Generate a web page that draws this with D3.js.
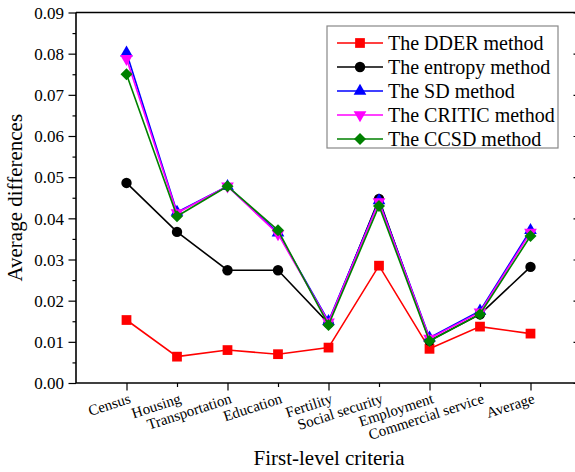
<!DOCTYPE html>
<html>
<head>
<meta charset="utf-8">
<script src="https://cdn.jsdelivr.net/npm/d3@7"></script>
<style>
  html, body { margin: 0; padding: 0; background: #fff; }
  svg { display: block; }
  svg text { font-family: "Liberation Serif", "DejaVu Serif", serif; }
</style>
</head>
<body>
<div id="chart"></div>
<script>
// ── Data ──
const categories = ['Census', 'Housing', 'Transportation', 'Education', 'Fertility',
  'Social security', 'Employment', 'Commercial service', 'Average'];

const dderValues    = [0.0153, 0.0064, 0.0080, 0.0070, 0.0086, 0.0285, 0.0083, 0.0137, 0.0120];
const entropyValues = [0.0486, 0.0367, 0.0274, 0.0274, 0.0145, 0.0447, 0.0103, 0.0167, 0.0282];
const sdValues      = [0.0802, 0.0415, 0.0478, 0.0365, 0.0150, 0.0443, 0.0110, 0.0175, 0.0371];
const criticValues  = [0.0788, 0.0413, 0.0478, 0.0362, 0.0148, 0.0440, 0.0108, 0.0172, 0.0366];
const ccsdValues    = [0.0750, 0.0405, 0.0478, 0.0371, 0.0141, 0.0430, 0.0102, 0.0167, 0.0357];

const seriesNames = ['The DDER method', 'The entropy method', 'The SD method', 'The CRITIC method', 'The CCSD method'];
const yTicks = [0, 0.01, 0.02, 0.03, 0.04, 0.05, 0.06, 0.07, 0.08, 0.09];

const series = [
  { name: seriesNames[0], values: dderValues,    color: '#ff0000', symbol: d3.symbolSquare,   size: 95 },
  { name: seriesNames[1], values: entropyValues, color: '#000000', symbol: d3.symbolCircle,   size: 85 },
  { name: seriesNames[2], values: sdValues,      color: '#0000ff', symbol: d3.symbolTriangle, size: 70 },
  { name: seriesNames[3], values: criticValues,  color: '#ff00ff', symbol: d3.symbolTriangle, size: 70, rot: 180 },
  { name: seriesNames[4], values: ccsdValues,    color: '#008000', symbol: d3.symbolSquare,   size: 72, rot: 45 },
];

// ── Layout ──
const W = 575, H = 472;
const M = { left: 76, right: 581, top: 12.5, bottom: 383 };

const svg = d3.select('#chart').append('svg')
  .attr('width', W).attr('height', H);

const x = d3.scaleLinear().domain([0, 10]).range([M.left, M.right]);
const y = d3.scaleLinear().domain([0, 0.09]).range([M.bottom, M.top]);

// ── Axes ──
const minorY = d3.range(0, 0.0901, 0.005);
const isMajor = d => yTicks.some(t => Math.abs(t - d) < 1e-6);

// left axis: outward ticks
const gl = svg.append('g').attr('transform', `translate(${M.left},0)`);
gl.call(d3.axisLeft(y).tickValues(minorY).tickSize(3.5).tickFormat(''));
gl.selectAll('.tick').filter(isMajor).select('line').attr('x2', -7.5);
gl.selectAll('.tick text').remove();
gl.selectAll('.tick').filter(isMajor)
  .append('text')
  .attr('x', -12).attr('dy', '0.34em')
  .attr('text-anchor', 'end')
  .attr('fill', '#000')
  .style('font-size', '17px')
  .text(d => d3.format('.2f')(d));

// right axis: inward ticks
const gr = svg.append('g').attr('transform', `translate(${M.right},0)`);
gr.call(d3.axisLeft(y).tickValues(minorY).tickSize(3.5).tickFormat(''));
gr.selectAll('.tick').filter(isMajor).select('line').attr('x2', -7.5);
gr.selectAll('.tick text').remove();

// bottom axis
const gb = svg.append('g').attr('transform', `translate(0,${M.bottom})`);
gb.call(d3.axisBottom(x).tickValues(d3.range(1, 10)).tickSize(4).tickFormat(''));
gb.selectAll('.tick').filter(d => d % 2 === 1).select('line').attr('y2', 7.5);
gb.selectAll('.tick text').remove();
gb.selectAll('.tick')
  .append('text')
  .attr('text-anchor', 'end')
  .attr('fill', '#000')
  .attr('transform', 'translate(1,9) rotate(-18)')
  .attr('dy', '0.75em')
  .style('font-size', '15px')
  .text(d => categories[d - 1]);

// top axis
const gt = svg.append('g').attr('transform', `translate(0,${M.top})`);
gt.call(d3.axisBottom(x).tickValues([]).tickSize(0));

svg.selectAll('.domain').attr('stroke', '#000').attr('stroke-width', 1.6);
svg.selectAll('.tick line').attr('stroke', '#000').attr('stroke-width', 1.2);
// keep box edges clean
gl.select('.domain').attr('d', `M0,${M.top}V${M.bottom}`);
gr.select('.domain').attr('d', `M0,${M.top}V${M.bottom}`);
gb.select('.domain').attr('d', `M${M.left},0H${M.right}`);
gt.select('.domain').attr('d', `M${M.left},0H${M.right}`);

// ── Axis titles ──
svg.append('text')
  .attr('transform', `translate(22,${(M.top + M.bottom) / 2}) rotate(-90)`)
  .attr('text-anchor', 'middle')
  .style('font-size', '21px')
  .text('Average differences');

svg.append('text')
  .attr('x', 329).attr('y', 465)
  .attr('text-anchor', 'middle')
  .style('font-size', '21px')
  .text('First-level criteria');

// ── Lines and markers ──
const line = d3.line().x((d, i) => x(i + 1)).y(d => y(d));
const rot = s => s.rot ? ` rotate(${s.rot})` : '';

for (const s of series) {
  const g = svg.append('g');
  g.append('path')
    .datum(s.values)
    .attr('fill', 'none')
    .attr('stroke', s.color)
    .attr('stroke-width', 1.6)
    .attr('d', line);
  g.selectAll('path.mk').data(s.values).join('path')
    .attr('class', 'mk')
    .attr('d', d3.symbol(s.symbol, s.size))
    .attr('fill', s.color)
    .attr('transform', (d, i) => `translate(${x(i + 1)},${y(d)})${rot(s)}`);
}

// ── Legend ──
const lg = svg.append('g').attr('transform', 'translate(327,26)');
lg.append('rect')
  .attr('width', 231).attr('height', 122)
  .attr('fill', '#fff')
  .attr('stroke', '#888').attr('stroke-width', 1.2);

series.forEach((s, i) => {
  const row = lg.append('g').attr('transform', `translate(0,${17 + i * 24})`);
  row.append('line')
    .attr('x1', 10).attr('x2', 56)
    .attr('stroke', s.color).attr('stroke-width', 1.6);
  row.append('path')
    .attr('d', d3.symbol(s.symbol, s.size))
    .attr('fill', s.color)
    .attr('transform', `translate(33,0)${rot(s)}`);
  row.append('text')
    .attr('x', 61).attr('dy', '0.35em')
    .style('font-size', '20px')
    .text(s.name);
});
</script>
</body>
</html>
